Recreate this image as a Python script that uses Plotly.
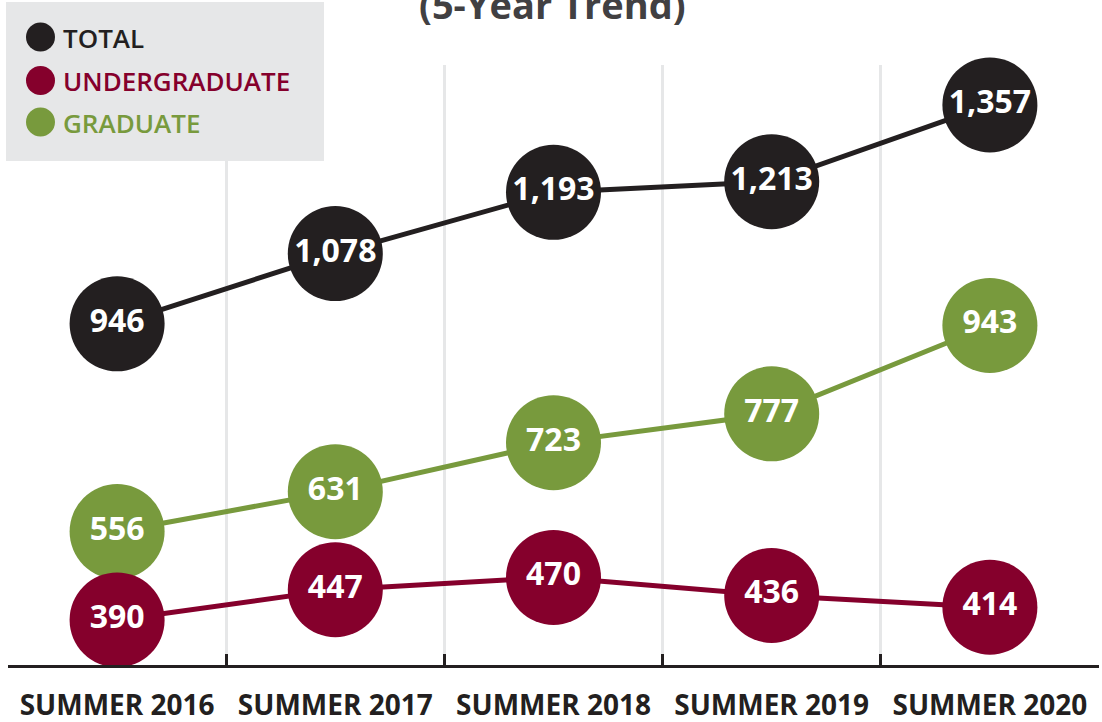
import plotly.graph_objects as go

# data
years = ["SUMMER 2016", "SUMMER 2017", "SUMMER 2018", "SUMMER 2019", "SUMMER 2020"]
total = [946, 1078, 1193, 1213, 1357]
undergraduate = [390, 447, 470, 436, 414]
graduate = [556, 631, 723, 777, 943]

legend_names = ["TOTAL", "UNDERGRADUATE", "GRADUATE"]
title_text = "(5-Year Trend)"

BLACK = "#231f20"
MAROON = "#85002c"
GREEN = "#789a3d"
GREY_BG = "#e6e7e8"

W, H = 1102, 722
L, R, T, B = 8, 3, 65, 57
plot_w = W - L - R
plot_h = H - T - B


def px_x(px):
    return (px - L) / plot_w


def px_y(py):
    return (H - B - py) / plot_h


def series(values, color, name):
    return go.Scatter(
        x=years, y=values, name=name,
        mode="lines+markers+text",
        line=dict(color=color, width=5),
        marker=dict(color=color, size=95, line=dict(width=0)),
        text=[f"{v:,}" for v in values],
        textposition="middle center",
        textfont=dict(family="Open Sans", size=32, color="white", weight="bold"),
        cliponaxis=False,
        showlegend=False,
        hoverinfo="skip",
    )


fig = go.Figure()
# graduate before undergraduate so maroon circles sit on top
fig.add_trace(series(total, BLACK, legend_names[0]))
fig.add_trace(series(graduate, GREEN, legend_names[2]))
fig.add_trace(series(undergraduate, MAROON, legend_names[1]))

fig.update_xaxes(
    type="category", range=[-0.5, 4.5], tickson="boundaries",
    showgrid=True, gridcolor=GREY_BG, gridwidth=3,
    showline=True, linecolor=BLACK, linewidth=3,
    ticks="inside", ticklen=11, tickwidth=3, tickcolor=BLACK,
    tickfont=dict(family="Open Sans", size=28, color=BLACK, weight="bold"),
    ticklabelstandoff=13, automargin=False,
    zeroline=False,
)
fig.update_yaxes(range=[305.5, 1432], visible=False, showgrid=False,
                 zeroline=False, automargin=False)

# manual legend
shapes = [dict(type="rect", xref="paper", yref="paper", layer="above",
               x0=px_x(6), x1=px_x(324), y0=px_y(161), y1=px_y(2),
               fillcolor=GREY_BG, line=dict(width=0))]
annotations = []
leg_colors = [BLACK, MAROON, GREEN]
leg_y = [37, 80.5, 122]
for name, col, yy in zip(legend_names, leg_colors, leg_y):
    shapes.append(dict(type="circle", xref="paper", yref="paper", layer="above",
                       xsizemode="pixel", ysizemode="pixel",
                       xanchor=px_x(40.5), yanchor=px_y(yy),
                       x0=-14.5, x1=14.5, y0=-14.5, y1=14.5,
                       fillcolor=col, line=dict(width=0)))
    annotations.append(dict(text=name, xref="paper", yref="paper",
                            x=px_x(61), y=px_y(yy + 1), xanchor="left", yanchor="middle",
                            showarrow=False,
                            font=dict(family="Open Sans", size=26, color=col, weight=600)))

annotations.append(dict(text=title_text, xref="paper", yref="paper",
                        x=px_x(552), y=px_y(4), xanchor="center", yanchor="middle",
                        showarrow=False,
                        font=dict(family="Open Sans", size=38, color="#414042", weight="bold")))

fig.update_layout(
    width=W, height=H, autosize=False,
    margin=dict(l=L, r=R, t=T, b=B),
    paper_bgcolor="white", plot_bgcolor="white",
    shapes=shapes, annotations=annotations,
    showlegend=False,
)

# drop the default page margin so the figure fills the window exactly
fig.write_html(
    "out.html",
    config={"displayModeBar": False, "responsive": False},
    post_script="document.body.style.margin='0';",
)
